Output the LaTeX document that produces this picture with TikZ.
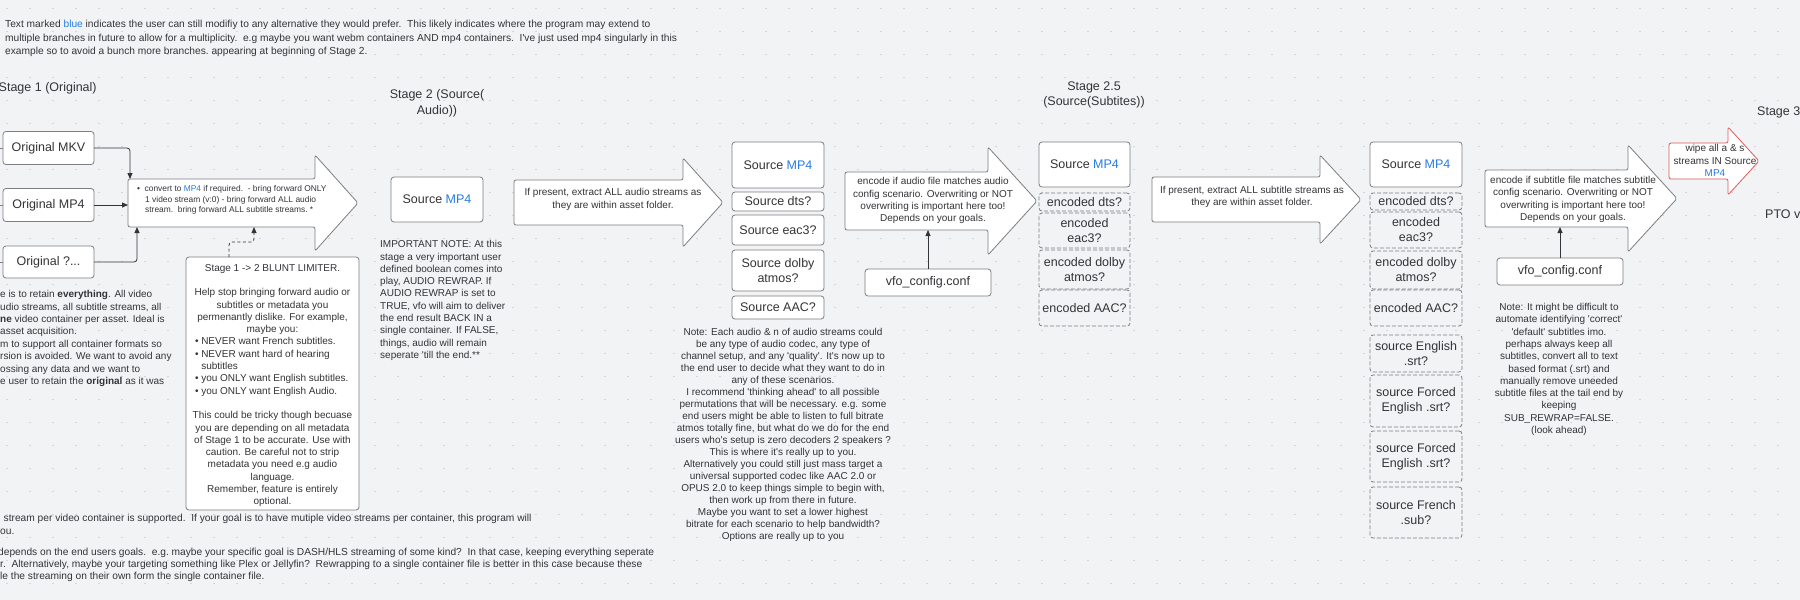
\documentclass[tikz,border=0pt]{standalone}
\usepackage{fontspec}
\setmainfont{Liberation Sans}[Ligatures=TeXOff]
\usetikzlibrary{arrows.meta,calc}
\definecolor{bgc}{RGB}{242,243,245}
\definecolor{dotc}{RGB}{182,186,194}
\definecolor{ink}{RGB}{52,52,56}
\definecolor{edge}{RGB}{125,125,130}
\definecolor{mpblue}{RGB}{38,124,222}
\definecolor{wipered}{RGB}{224,88,88}
\newcommand\bl[1]{\textcolor{mpblue}{#1}}
\newcommand\ts{\ \ }% double space between sentences
% block arrow drawn around a body node: #1 node, #2 head overhang, #3 head length, #4 style
\newcommand\blkarrow[4]{%
  \draw[#4] (#1.north west) -- (#1.north east) -- ([yshift=#2]#1.north east)
    -- ([xshift=#3]#1.east) -- ([yshift=-#2]#1.south east) -- (#1.south east)
    -- (#1.south west) -- cycle;}
\tikzset{
  txt/.style={text=ink, font=\fontsize{10}{12.3}\selectfont, inner sep=0pt},
  wide/.style={font=\fontsize{10.2}{13.3}\selectfont\frenchspacing},
  lbl/.style={text=ink, font=\fontsize{12.5}{15.5}\selectfont, inner sep=0pt},
  box/.style={draw=edge, fill=white, rounded corners=3pt, line width=0.8pt,
    inner sep=0pt, outer sep=0pt, text=ink, font=\fontsize{12.5}{15}\selectfont, align=center},
  dbox/.style={box, fill=bgc, dash pattern=on 4pt off 2pt},
  abody/.style={inner sep=0pt, outer sep=0pt},
  blk/.style={draw=edge, fill=white, line width=0.8pt, rounded corners=2pt, line join=round},
  redblk/.style={blk, draw=wipered},
  conn/.style={draw=ink, line width=0.8pt, rounded corners=3pt, -{Triangle[length=6pt,width=5pt]}},
  dconn/.style={conn, dash pattern=on 3pt off 2.5pt},
  stub/.style={draw=edge, line width=0.8pt},
}
\begin{document}
\begin{tikzpicture}[x=1pt,y=-1pt]
\useasboundingbox (0,0) rectangle (1800,600);
\fill[bgc] (0,0) rectangle (1800,600);
% dotted canvas grid
\foreach \x in {7,30,...,1800}{\foreach \y in {8.5,31.5,...,600}{\fill[dotc] (\x,\y) circle (0.7pt);}}

% introduction
\node[txt, wide, anchor=west, align=left] (intro) at (5,38.5)
 {Text marked \bl{blue} indicates the user can still modifiy to any alternative they would prefer.\ts This likely indicates where the program may extend to\\
  multiple branches in future to allow for a multiplicity.\ts e.g maybe you want webm containers AND mp4 containers.\ts I've just used mp4 singularly in this\\
  example so to avoid a bunch more branches. appearing at beginning of Stage 2.};

% stage titles
\node[lbl, anchor=west] (st1) at (-1.5,88) {Stage 1 (Original)};
\node[lbl, align=center] (st2) at (437,103.5) {Stage 2 (Source(\\Audio))};
\node[lbl, align=center] (st25) at (1094,95) {Stage 2.5\\(Source(Subtites))};
\node[lbl, anchor=west] (st3) at (1757,112) {Stage 3};
\node[lbl, anchor=west] (pto) at (1765,214) {PTO v};

% ---------- stage 1 ----------
\node[box, minimum width=91pt, minimum height=33pt] (mkv) at (48.5,148) {Original MKV};
\node[box, minimum width=91pt, minimum height=33pt] (omp4) at (48.5,205) {Original MP4};
\node[box, minimum width=91pt, minimum height=32pt] (oq) at (48.5,262) {Original ?...};
\coordinate (in1) at (0,148);
\coordinate (in2) at (0,205);
\coordinate (in3) at (0,262);
\draw[stub] (in1) -- (mkv.west);
\draw[stub] (in2) -- (omp4.west);
\draw[stub] (in3) -- (oq.west);

\node[abody, minimum width=187pt, minimum height=48pt] (a1) at (221.5,203) {};
\blkarrow{a1}{24pt}{43pt}{blk}
\node[txt, anchor=west, align=left, font=\fontsize{8.4}{10.7}\selectfont\frenchspacing] (a1t) at (137,200)
 {\textbullet\hspace{4.5pt}convert to \bl{MP4} if required.\ts - bring forward ONLY\\
  \hspace*{8pt}1 video stream (v:0) - bring forward ALL audio\\
  \hspace*{8pt}stream.\ts bring forward ALL subtitle streams. *};

\node[box, minimum width=173pt, minimum height=253pt] (lim) at (272.5,383.5) {};
\node[txt, align=center] (limt) at (272.5,385.5)
 {Stage 1 -> 2 BLUNT LIMITER.\\[12.3pt]
  Help stop bringing forward audio or\\
  subtitles or metadata you\\
  permenantly dislike.  For example,\\
  maybe you:\\
  \makebox[155pt][l]{\textbullet\ NEVER want French subtitles.}\\
  \makebox[155pt][l]{\textbullet\ NEVER want hard of hearing}\\
  \makebox[155pt][l]{\hspace*{6.3pt}subtitles}\\
  \makebox[155pt][l]{\textbullet\ you ONLY want English subtitles.}\\
  \makebox[155pt][l]{\textbullet\ you ONLY want English Audio.}\\[12.3pt]
  This could be tricky though becuase\\
  you are depending on all metadata\\
  of Stage 1 to be accurate.  Use with\\
  caution.  Be careful not to strip\\
  metadata you need e.g audio\\
  language.\\
  Remember, feature is entirely\\
  optional.};

\node[txt, anchor=west, align=left, font=\fontsize{10}{12.4}\selectfont] (s1desc) at (0,338.5)
 {e is to retain \textbf{everything}.  All video\\
  udio streams, all subtitle streams, all\\
  \textbf{ne} video container per asset.  Ideal is\\
  asset acquisition.\\
  m to support all container formats so\\
  rsion is avoided.  We want to avoid any\\
  ossing any data and we want to\\
  e user to retain the \textbf{original} as it was};

\draw[conn] (mkv.east) -| ([xshift=2pt]a1.north west);
\draw[conn] (omp4.east) -- (omp4.east -| a1.west);
\draw[conn] (oq.east) -| ([xshift=9pt]a1.south west);
\draw[dconn] ([xshift=43pt]lim.north west) -- ++(0,-15) -| ([xshift=126pt]a1.south west);

% bottom remarks
\node[txt, wide, anchor=west] (bt1) at (3.5,519) {stream per video container is supported.\ts If your goal is to have mutiple video streams per container, this program will};
\node[txt, wide, anchor=west] (bt2) at (0,532) {ou.};
\node[txt, wide, anchor=west] (bt3) at (-2,553) {depends on the end users goals.\ts e.g. maybe your specific goal is DASH/HLS streaming of some kind?\ts In that case, keeping everything seperate};
\node[txt, wide, anchor=west] (bt4) at (0,565) {r.\ts Alternatively, maybe your targeting something like Plex or Jellyfin?\ts Rewrapping to a single container file is better in this case because these};
\node[txt, wide, anchor=west] (bt5) at (0,577) {le the streaming on their own form the single container file.};

% ---------- stage 2 ----------
\node[box, minimum width=92pt, minimum height=45pt] (s2src) at (437,199.5) {Source \bl{MP4}};
\node[txt, anchor=west, align=left] (imp) at (380,300.5)
 {IMPORTANT NOTE:  At this\\
  stage a very important user\\
  defined boolean comes into\\
  play, AUDIO REWRAP.  If\\
  AUDIO REWRAP is set to\\
  TRUE, vfo will aim to deliver\\
  the end result BACK IN a\\
  single container.  If FALSE,\\
  things, audio will remain\\
  seperate 'till the end.**};

\node[abody, minimum width=169pt, minimum height=45pt] (a2) at (598.5,202.5) {};
\blkarrow{a2}{22pt}{40pt}{blk}
\node[txt, align=center, font=\fontsize{10}{13}\selectfont] (a2t) at (613,199.5)
 {If present, extract ALL audio streams as\\they are within asset folder.};

\node[box, minimum width=92pt, minimum height=46pt] (ssmp4) at (778,165) {Source \bl{MP4}};
\node[box, minimum width=92pt, minimum height=19pt] (ssdts) at (778,201.5) {Source dts?};
\node[box, minimum width=92pt, minimum height=30pt] (sseac) at (778,230) {Source eac3?};
\node[box, minimum width=92pt, minimum height=41pt] (ssdolby) at (778,270.5) {Source dolby\\atmos?};
\node[box, minimum width=92pt, minimum height=23pt] (ssaac) at (778,307.5) {Source AAC?};

\node[txt, align=center, font=\fontsize{10}{12}\selectfont] (anote) at (783,435)
 {Note: Each audio \& n of audio streams could\\
  be any type of audio codec, any type of\\
  channel setup, and any 'quality'.  It's now up to\\
  the end user to decide what they want to do in\\
  any of these scenarios.\\
  I recommend 'thinking ahead' to all possible\\
  permutations that will be necessary.  e.g. some\\
  end users might be able to listen to full bitrate\\
  atmos totally fine, but what do we do for the end\\
  users who's setup is zero decoders 2 speakers ?\\
  This is where it's really up to you.\\
  Alternatively you could still just mass target a\\
  universal supported codec like AAC 2.0 or\\
  OPUS 2.0 to keep things simple to begin with,\\
  then work up from there in future.\\
  Maybe you want to set a lower highest\\
  bitrate for each scenario to help bandwidth?\\
  Options are really up to you};

\node[abody, minimum width=143pt, minimum height=58pt] (a3) at (916.5,201) {};
\blkarrow{a3}{25pt}{49pt}{blk}
\node[txt, align=center] (a3t) at (933,200.8)
 {encode if audio file matches audio\\
  config scenario.  Overwriting or NOT\\
  overwriting is important here too!\\
  Depends on your goals.};
\node[box, minimum width=126pt, minimum height=27pt] (vfo1) at (928,282.5) {vfo\_config.conf};
\draw[conn] (vfo1.north) -- (vfo1.north |- a3.south);

% ---------- stage 2.5 ----------
\node[box, minimum width=91pt, minimum height=45pt] (tmp4) at (1084.5,164.5) {Source \bl{MP4}};
\node[dbox, minimum width=91pt, minimum height=18pt] (tdts) at (1084.5,202) {encoded dts?};
\node[dbox, minimum width=91pt, minimum height=35pt] (teac) at (1084.5,230.5) {encoded\\eac3?};
\node[dbox, minimum width=91pt, minimum height=39pt] (tdolby) at (1084.5,269.5) {encoded dolby\\atmos?};
\node[dbox, minimum width=91pt, minimum height=36pt] (taac) at (1084.5,308) {encoded AAC?};

\node[abody, minimum width=168pt, minimum height=45pt] (a4) at (1236,199.5) {};
\blkarrow{a4}{22pt}{41pt}{blk}
\node[txt, align=center, font=\fontsize{10}{12.5}\selectfont] (a4t) at (1252,197)
 {If present, extract ALL subtitle streams as\\they are within asset folder.};

% ---------- stage 3 ----------
\node[box, minimum width=92pt, minimum height=45pt] (ump4) at (1416,164.5) {Source \bl{MP4}};
\node[dbox, minimum width=92pt, minimum height=17pt] (udts) at (1416,201.5) {encoded dts?};
\node[dbox, minimum width=92pt, minimum height=36pt] (ueac) at (1416,230) {encoded\\eac3?};
\node[dbox, minimum width=92pt, minimum height=38pt] (udolby) at (1416,270) {encoded dolby\\atmos?};
\node[dbox, minimum width=92pt, minimum height=36pt] (uaac) at (1416,308) {encoded AAC?};
\node[dbox, minimum width=92pt, minimum height=37pt] (ueng) at (1416,353.5) {source English\\.srt?};
\node[dbox, minimum width=92pt, minimum height=52pt] (ufor1) at (1416,401) {source Forced\\English .srt?};
\node[dbox, minimum width=92pt, minimum height=51pt] (ufor2) at (1416,456.5) {source Forced\\English .srt?};
\node[dbox, minimum width=92pt, minimum height=51pt] (ufr) at (1416,512.5) {source French\\.sub?};

\node[abody, minimum width=143pt, minimum height=57pt] (a5) at (1556.5,198.5) {};
\blkarrow{a5}{25pt}{49pt}{blk}
\node[txt, align=center] (a5t) at (1573,199.5)
 {encode if subtitle file matches subtitle\\
  config scenario.  Overwriting or NOT\\
  overwriting is important here too!\\
  Depends on your goals.};
\node[box, minimum width=126pt, minimum height=27pt] (vfo2) at (1560,271.5) {vfo\_config.conf};
\draw[conn] (vfo2.north) -- (vfo2.north |- a5.south);

\node[txt, align=center] (snote) at (1559,369.5)
 {Note: It might be difficult to\\
  automate identifying 'correct'\\
  'default' subtitles imo.\\
  perhaps always keep all\\
  subtitles, convert all to text\\
  based format (.srt) and\\
  manually remove uneeded\\
  subtitle files at the tail end by\\
  keeping\\
  SUB\_REWRAP=FALSE.\\
  (look ahead)};

\node[abody, minimum width=59pt, minimum height=36pt] (a6) at (1698.5,161) {};
\blkarrow{a6}{16pt}{31pt}{redblk}
\node[txt, align=center, font=\fontsize{10}{12.5}\selectfont] (a6t) at (1715,160.5)
 {wipe all a \& s\\streams IN Source\\\bl{MP4}};
\end{tikzpicture}
\end{document}
